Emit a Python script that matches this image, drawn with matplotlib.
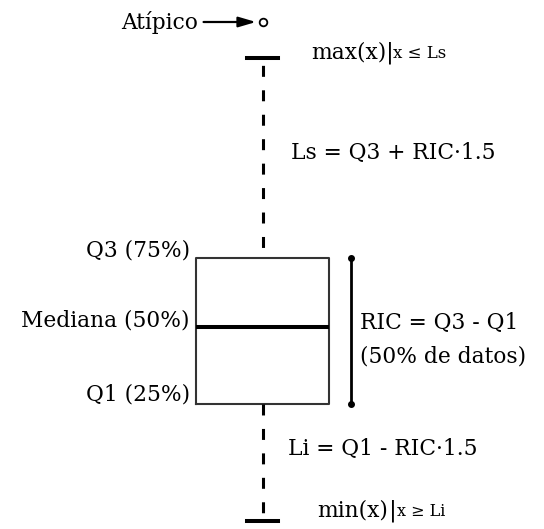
import matplotlib
matplotlib.use("Agg")
import matplotlib.pyplot as plt

plt.rcParams['font.family'] = ['DejaVu Serif']
plt.rcParams['lines.scale_dashes'] = False

# Box-plot statistics (schematic values)
q1 = 12.5
median = 20.2
q3 = 27.1
whisker_low = 0.8
whisker_high = 47.1
outliers = [50.7]

stats = [dict(med=median, q1=q1, q3=q3, whislo=whisker_low,
              whishi=whisker_high, fliers=outliers)]

fig = plt.figure(figsize=(5.44, 5.29), dpi=100)
ax = fig.add_axes([0, 0, 1, 1])
ax.set_xlim(0, 5.44)
ax.set_ylim(0, 52.9)
ax.axis('off')

pos = 2.63
parts = ax.bxp(stats, positions=[pos], widths=[1.33], capwidths=[0.31],
               boxprops=dict(color='#333333', linewidth=1.5),
               medianprops=dict(color='black', linewidth=2.9),
               whiskerprops=dict(color='black', linewidth=2.2,
                                 linestyle=(0, (7.9, 9.7))),
               capprops=dict(color='black', linewidth=2.9),
               flierprops=dict(marker='o', markersize=5.5,
                               markerfacecolor='white',
                               markeredgecolor='black',
                               markeredgewidth=1.3))
# upper whisker starts with a short gap above the box
parts['whiskers'][1].set_linestyle((10.0, (7.9, 9.7)))

fs = 15.7
# Outlier label with arrow
ax.annotate('Atípico', xy=(pos - 0.07, outliers[0]), xytext=(1.98, outliers[0]),
            ha='right', va='center', fontsize=fs,
            arrowprops=dict(arrowstyle='-|>,head_length=0.75,head_width=0.22',
                            color='black', lw=1.6,
                            mutation_scale=14, shrinkA=2, shrinkB=0))

# max label
ax.text(3.11, 47.1, 'max(x)', ha='left', va='baseline', fontsize=fs)
ax.text(3.86, 47.1, '|', ha='left', va='baseline', fontsize=fs + 1)
ax.text(3.93, 47.1, 'x ≤ Ls', ha='left', va='baseline', fontsize=12)

ax.text(2.91, 37.6, 'Ls = Q3 + RIC·1.5', ha='left', va='center', fontsize=fs)

# Quartile labels
ax.text(1.90, q3 + 0.7, 'Q3 (75%)', ha='right', va='center', fontsize=fs)
ax.text(1.90, median + 0.7, 'Mediana (50%)', ha='right', va='center', fontsize=fs)
ax.text(1.90, q1 + 0.9, 'Q1 (25%)', ha='right', va='center', fontsize=fs)

# IQR bar
ax.plot([3.51, 3.51], [q1, q3], color='black', lw=2.0, marker='o',
        markersize=4)
ax.text(3.60, 20.6, 'RIC = Q3 - Q1', ha='left', va='center', fontsize=fs)
ax.text(3.60, 17.3, '(50% de datos)', ha='left', va='center', fontsize=fs)

ax.text(2.88, 8.0, 'Li = Q1 - RIC·1.5', ha='left', va='center', fontsize=fs)

# min label
ax.text(3.17, 1.3, 'min(x)', ha='left', va='baseline', fontsize=fs)
ax.text(3.89, 1.3, '|', ha='left', va='baseline', fontsize=fs + 1)
ax.text(3.97, 1.3, 'x ≥ Li', ha='left', va='baseline', fontsize=11.5)

fig.savefig('out.png', dpi=100)
